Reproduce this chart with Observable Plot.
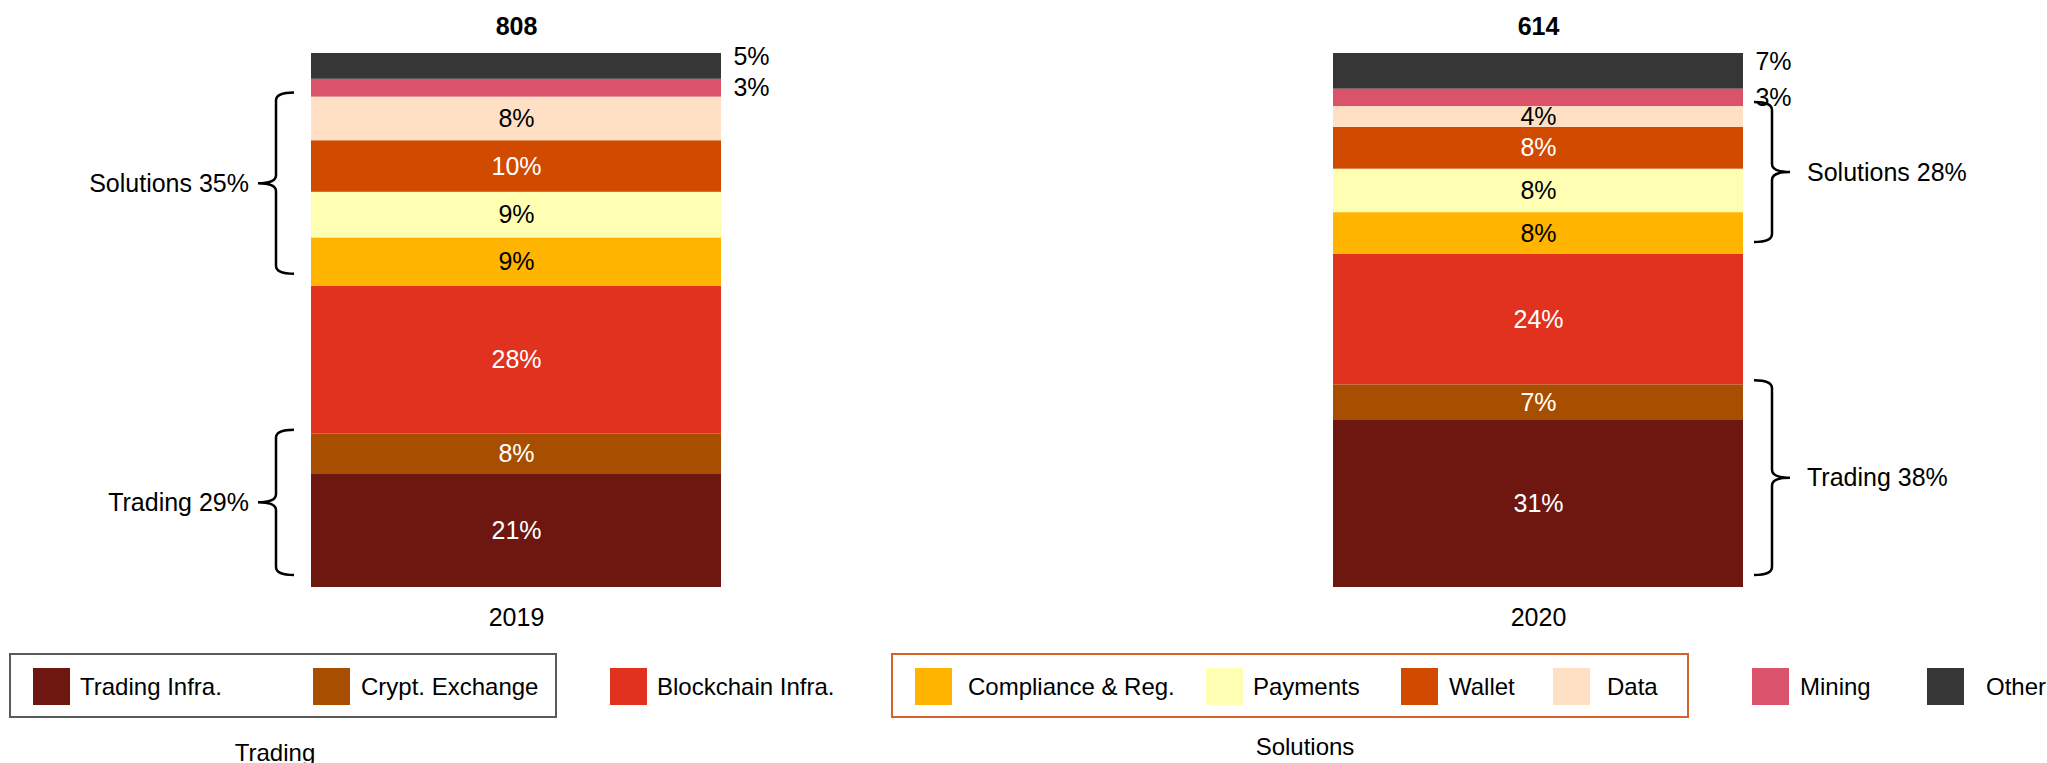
<!DOCTYPE html>
<html>
<head>
<meta charset="utf-8">
<script src="https://cdn.jsdelivr.net/npm/d3@7"></script>
<script src="https://cdn.jsdelivr.net/npm/@observablehq/plot@0.6"></script>
<style>
  html, body { margin: 0; padding: 0; background: #fff; overflow: hidden; }
  #root { position: relative; width: 2047px; height: 763px; font-family: "Liberation Sans", Arial, sans-serif; color: #000; }
  #chart { position: absolute; left: 0; top: 0; }
  .lg-box { position: absolute; box-sizing: border-box; border: 2px solid #5a5a5a; }
  .lg-sw { position: absolute; width: 37px; height: 37px; }
  .lg-tx { position: absolute; font-size: 24px; line-height: 37px; white-space: nowrap; }
  .lg-gl { position: absolute; font-size: 24px; transform: translate(-50%, -50%); white-space: nowrap; }
</style>
</head>
<body>
<div id="root"><div id="chart"></div></div>
<script>
// ---------------- data ----------------
const years = ["2019", "2020"];
const totals = [808, 614];
const categories = ["Trading Infra.", "Crypt. Exchange", "Blockchain Infra.", "Compliance & Reg.", "Payments", "Wallet", "Data", "Mining", "Other"];
const counts2019 = [171, 61, 224, 73, 69, 78, 66, 27, 39];
const counts2020 = [192, 41, 150, 48, 50, 48, 24, 20, 41];
const colors = ["#6e1710", "#a84e00", "#e0321f", "#ffb400", "#ffffb3", "#d04a00", "#ffe0c4", "#da536b", "#363636"];
const outsideCats = ["Mining", "Other"];
const groupNames = ["Trading", "Solutions"];
const groupMembers = [["Trading Infra.", "Crypt. Exchange"], ["Compliance & Reg.", "Payments", "Wallet", "Data"]];

// ---------------- layout ----------------
const W = 2047, H = 640, mL = 311, mR = 304, mT = 53, mB = 53, pad = 0.599;
const FONT = '"Liberation Sans", Arial, sans-serif';
const step = (W - mL - mR) / (2 - pad);
const bw = step * (1 - pad);

const counts = [counts2019, counts2020];
const rows = [];
years.forEach((yr, i) => categories.forEach((c, j) => {
  rows.push({year: yr, cat: c, count: counts[i][j], pct: counts[i][j] / totals[i] * 100});
}));
const tops = years.map((yr, i) => ({year: yr, total: totals[i], top: d3.sum(rows.filter(r => r.year === yr), r => r.pct)}));
const colorOf = c => colors[categories.indexOf(c)];
const isDark = c => d3.lab(colorOf(c)).l < 62;
const pctText = d => Math.round(d.pct) + "%";

const stackOpts = extra => Plot.stackY({x: "year", y: "pct", z: "cat", order: categories, ...extra});

const chart = Plot.plot({
  width: W, height: H,
  marginLeft: mL, marginRight: mR, marginTop: mT, marginBottom: mB,
  style: {fontFamily: FONT, fontSize: "25px", background: "white", color: "black", overflow: "visible"},
  x: {domain: years, paddingInner: pad, paddingOuter: 0, align: 0.5, label: null, tickSize: 0, tickPadding: 21},
  y: {domain: [0, 100], axis: null},
  color: {domain: categories, range: colors},
  marks: [
    Plot.barY(rows, Plot.stackY({x: "year", y: "pct", fill: "cat", order: categories})),
    Plot.text(rows, stackOpts({text: d => (!outsideCats.includes(d.cat) && isDark(d.cat)) ? pctText(d) : "", fill: "white", fontSize: 25})),
    Plot.text(rows, stackOpts({text: d => (!outsideCats.includes(d.cat) && !isDark(d.cat)) ? pctText(d) : "", fill: "black", fontSize: 25})),
    Plot.text(rows, stackOpts({text: d => d.cat === "Other" ? pctText(d) : "", fill: "black", fontSize: 25, textAnchor: "start", dx: bw / 2 + 12, dy: -9})),
    Plot.text(rows, stackOpts({text: d => d.cat === "Mining" ? pctText(d) : "", fill: "black", fontSize: 25, textAnchor: "start", dx: bw / 2 + 12})),
    Plot.text(tops, {x: "year", y: "top", text: d => String(d.total), dy: -27, fontWeight: "bold", fontSize: 25, fill: "black"})
  ]
});
document.getElementById("chart").appendChild(chart);

// ---------------- braces ----------------
const xs = chart.scale("x"), ys = chart.scale("y");
const svg = d3.select(chart);
years.forEach((yr, i) => {
  const side = i === 0 ? -1 : 1;
  const barL = xs.apply(yr), barR = barL + xs.bandwidth;
  const yrRows = rows.filter(r => r.year === yr);
  groupMembers.forEach((members, g) => {
    const firstIdx = categories.indexOf(members[0]);
    const lower = d3.sum(yrRows.filter(r => categories.indexOf(r.cat) < firstIdx), r => r.pct);
    const groupSum = d3.sum(yrRows.filter(r => members.includes(r.cat)), r => r.pct);
    const upper = lower + groupSum;
    const y0 = ys.apply(upper) - 4, y1 = ys.apply(lower) - 12, ym = (y0 + y1) / 2;
    let xEnd, xLine, xTip, xLab;
    if (side < 0) { xEnd = barL - 17; xLine = barL - 35; xTip = xLine - 18; xLab = xTip - 9; }
    else { xEnd = barR + 11; xLine = barR + 29; xTip = xLine + 18; xLab = xTip + 17; }
    const r = 8;
    const p = `M${xEnd},${y0} Q${xLine},${y0} ${xLine},${y0 + r} L${xLine},${ym - r} Q${xLine},${ym} ${xTip},${ym} Q${xLine},${ym} ${xLine},${ym + r} L${xLine},${y1 - r} Q${xLine},${y1} ${xEnd},${y1}`;
    svg.append("path").attr("d", p).attr("fill", "none").attr("stroke", "black").attr("stroke-width", 2.5);
    svg.append("text").attr("x", xLab).attr("y", ym).attr("dy", "0.35em")
      .attr("text-anchor", side < 0 ? "end" : "start")
      .attr("font-size", 25).attr("font-family", FONT).attr("fill", "black")
      .text(`${groupNames[g]} ${Math.round(groupSum)}%`);
  });
});

// ---------------- legend (HTML below the SVG) ----------------
const root = document.getElementById("root");
const legendSwatchX = [33, 313, 610, 915, 1206, 1401, 1553, 1752, 1927];
const legendTextX = [80, 361, 657, 968, 1253, 1449, 1607, 1800, 1986];
const legendTop = 668;
const boxes = [
  {left: 9, right: 557, color: "#5a5a5a", labelX: 275, labelY: 753},
  {left: 891, right: 1689, color: "#d4622a", labelX: 1305, labelY: 747}
];
boxes.forEach((b, g) => {
  const box = document.createElement("div");
  box.className = "lg-box";
  Object.assign(box.style, {left: b.left + "px", top: "653px", width: (b.right - b.left) + "px", height: "65px", borderColor: b.color});
  root.appendChild(box);
  const gl = document.createElement("div");
  gl.className = "lg-gl";
  Object.assign(gl.style, {left: b.labelX + "px", top: b.labelY + "px"});
  gl.textContent = groupNames[g];
  root.appendChild(gl);
});
categories.forEach((c, j) => {
  const sw = document.createElement("div");
  sw.className = "lg-sw";
  Object.assign(sw.style, {left: legendSwatchX[j] + "px", top: legendTop + "px", background: colors[j]});
  root.appendChild(sw);
  const tx = document.createElement("div");
  tx.className = "lg-tx";
  Object.assign(tx.style, {left: legendTextX[j] + "px", top: legendTop + "px"});
  tx.textContent = c;
  root.appendChild(tx);
});
</script>
</body>
</html>
